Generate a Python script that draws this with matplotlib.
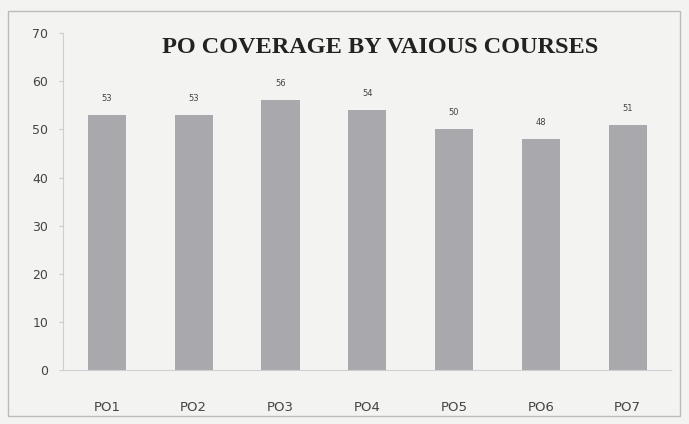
import matplotlib.pyplot as plt
from matplotlib.patches import Rectangle

# PO coverage values
courses = ['PO1', 'PO2', 'PO3', 'PO4', 'PO5', 'PO6', 'PO7']
coverage = [53, 53, 56, 54, 50, 48, 51]
yticks = list(range(0, 71, 10))

fig = plt.figure(figsize=(6.89, 4.24), dpi=100, facecolor='#f3f3f1')
ax = fig.add_axes([0.092, 0.127, 0.882, 0.795])
ax.set_facecolor('#f3f3f1')

bars = ax.bar(courses, coverage, width=0.44, color='#a9a8ad')

# value labels on top of bars
for bar, v in zip(bars, coverage):
    ax.text(bar.get_x() + bar.get_width() / 2, v + 2.5, str(v),
            ha='center', va='bottom', fontsize=6, color='#444444')

ax.set_xlim(-0.5, 6.5)
ax.set_ylim(0, 70)
ax.set_yticks(yticks)
ax.tick_params(axis='y', length=3, color='#cccccc', labelsize=9,
               labelcolor='#444444', pad=8)
ax.tick_params(axis='x', length=0, labelsize=9.5, labelcolor='#444444', pad=22)

for side in ['top', 'right']:
    ax.spines[side].set_visible(False)
ax.spines['left'].set_color('#cfcfcf')
ax.spines['bottom'].set_color('#cfcfcf')

fig.text(0.552, 0.887, 'PO COVERAGE BY VAIOUS COURSES', ha='center', va='center',
         fontsize=17.5, fontweight='bold', family='Liberation Serif', color='#222222')

# outer frame of the chart area
fig.add_artist(Rectangle((0.012, 0.02), 0.975, 0.955, transform=fig.transFigure,
                         fill=False, edgecolor='#bbbbbb', linewidth=1))

fig.savefig('out.png', dpi=100, facecolor=fig.get_facecolor())
